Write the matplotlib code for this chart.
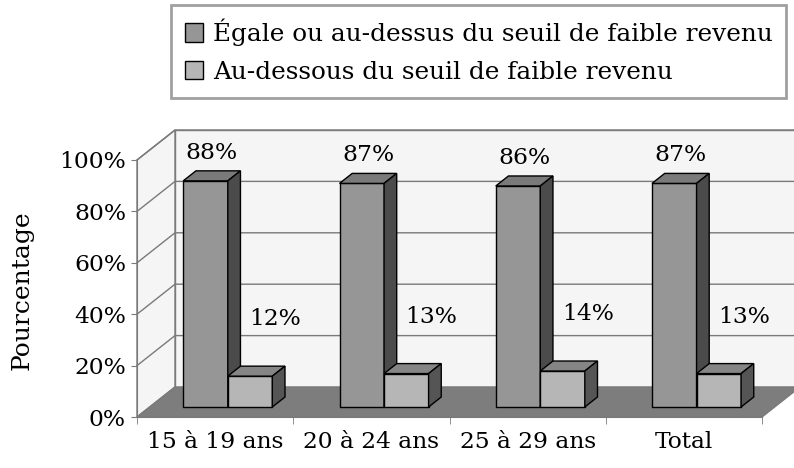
import matplotlib
matplotlib.use('Agg')
import matplotlib.pyplot as plt
from matplotlib.patches import Polygon, Patch
import numpy as np

plt.rcParams['font.family'] = ['DejaVu Serif']

# data
categories = ['15 à 19 ans', '20 à 24 ans', '25 à 29 ans', 'Total']
above = [0.88, 0.87, 0.86, 0.87]
below = [0.12, 0.13, 0.14, 0.13]
series_names = ['Égale ou au-dessus du seuil de faible revenu',
                'Au-dessous du seuil de faible revenu']
yticks = [0, 0.2, 0.4, 0.6, 0.8, 1.0]
ytick_labels = ['0%', '20%', '40%', '60%', '80%', '100%']

# colours
dark_front, dark_top, dark_side = '#969696', '#7a7a7a', '#4b4b4b'
light_front, light_top, light_side = '#b6b6b6', '#858585', '#555555'
wall_col = '#f5f5f5'
floor_col = '#7d7d7d'
line_col = '#7a7a7a'
FS = 16.8

W, H = 794, 468
fig = plt.figure(figsize=(W / 100, H / 100), dpi=100)
ax = fig.add_axes([137 / W, (H - 417) / H, (762 - 137) / W, (417 - 160) / H])
ax.set_xlim(0, len(categories))
ax.set_ylim(0, 1)

# depth of the 3d box in data units (38px right, 30px up)
ax_w_px = 762 - 137
ax_h_px = 417 - 160
DX = 38 / (ax_w_px / len(categories))
DY = 30 / ax_h_px
n = len(categories)


def poly(pts, fc, ec=line_col, lw=1.0, z=1):
    p = Polygon(pts, closed=True, facecolor=fc, edgecolor=ec, linewidth=lw,
                clip_on=False, zorder=z)
    ax.add_patch(p)


# back wall
poly([(DX, DY), (n + DX, DY), (n + DX, 1 + DY), (DX, 1 + DY)], wall_col, z=1)
# left wall
poly([(0, 0), (DX, DY), (DX, 1 + DY), (0, 1)], wall_col, z=1)
# gridlines
for g in yticks[1:]:
    ax.plot([0, DX, n + DX], [g, g + DY, g + DY], color=line_col, lw=1,
            clip_on=False, zorder=2)
# floor
poly([(0, 0), (n, 0), (n + DX, DY), (DX, DY)], floor_col, z=2)

# bars
bw = 0.285
dx, dy = DX / 3, DY / 3


def bar3d(x0, v, front, top, side):
    x1 = x0 + bw
    b = dy
    xs = x0 + dx
    xe = x1 + dx
    poly([(xs, b), (xe, b), (xe, b + v), (xs, b + v)], front, ec='black', z=3)
    poly([(xs, b + v), (xe, b + v), (xe + dx, b + v + dy), (xs + dx, b + v + dy)],
         top, ec='black', z=3)
    poly([(xe, b), (xe + dx, b + dy), (xe + dx, b + v + dy), (xe, b + v)],
         side, ec='black', z=3)


for i in range(n):
    c = i + 0.5
    bar3d(c - bw, above[i], dark_front, dark_top, dark_side)
    bar3d(c, below[i], light_front, light_top, light_side)
    ax.text(c - bw / 2 + DX / 2, above[i] + DY / 2 + 0.09, '%d%%' % round(above[i] * 100),
            ha='center', va='center', fontsize=FS, zorder=5)
    ax.text(c + bw / 2 + DX / 2 + 0.12, below[i] + 0.26, '%d%%' % round(below[i] * 100),
            ha='center', va='center', fontsize=FS, zorder=5)

# axes styling
for s in ['top', 'right']:
    ax.spines[s].set_visible(False)
ax.spines['left'].set_color(line_col)
ax.spines['bottom'].set_color(line_col)
ax.spines['left'].set_zorder(4)
ax.spines['bottom'].set_zorder(4)
ax.set_facecolor('none')
ax.set_yticks(yticks)
ax.set_yticklabels(ytick_labels, fontsize=FS)
ax.tick_params(axis='y', length=4, color=line_col, pad=4)
ax.set_xticks(np.arange(n) + 0.5)
ax.set_xticklabels(categories, fontsize=FS)
ax.set_xticks(np.arange(n + 1), minor=True)
ax.tick_params(axis='x', which='major', length=0, pad=10)
ax.tick_params(axis='x', which='minor', length=5, color=line_col)

fig.text(22 / W, 1 - 290 / H, 'Pourcentage', rotation=90, ha='center',
         va='center', fontsize=18)

handles = [Patch(facecolor=dark_front, edgecolor='black'),
           Patch(facecolor=light_front, edgecolor='black')]
leg = fig.legend(handles, series_names, loc='upper left',
                 bbox_to_anchor=(171 / W, 1 - 5 / H), fontsize=17.8,
                 frameon=True, fancybox=False, handlelength=0.75,
                 handleheight=0.75, handletextpad=0.4, borderpad=0.55,
                 labelspacing=0.6, borderaxespad=0)
leg.get_frame().set_edgecolor('#888888')
leg.get_frame().set_linewidth(2)

fig.savefig('out.png', dpi=100)
